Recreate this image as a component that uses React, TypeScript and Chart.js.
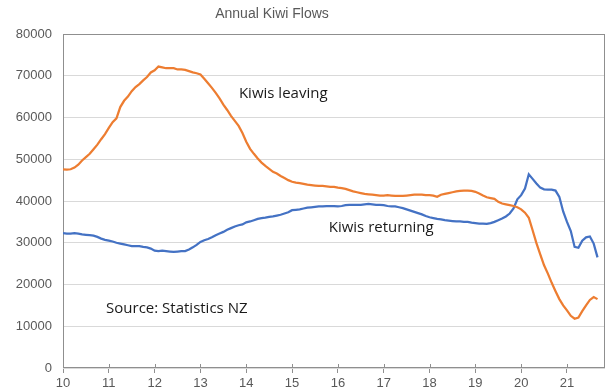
import React, { useEffect, useRef } from "react";
import { Chart, registerables } from "chart.js";

Chart.register(...registerables);

const TITLE = "Annual Kiwi Flows";
const START_YEAR = 10;
const MONTHS_PER_YEAR = 12;
const X_MAX = 21.83;
const X_TICKS = [10, 11, 12, 13, 14, 15, 16, 17, 18, 19, 20, 21];
const Y_TICKS = [0, 10000, 20000, 30000, 40000, 50000, 60000, 70000, 80000];

// Monthly annual totals, starting January 2010
const LEAVING = [
  47600, 47500, 47600, 48000, 48700, 49700, 50500, 51300, 52400, 53500,
  54800, 56000, 57500, 58900, 59800, 62500, 64000, 65000, 66300, 67300,
  68000, 68900, 69700, 70800, 71300, 72200, 72000, 71800, 71800, 71800,
  71500, 71500, 71400, 71100, 70800, 70600, 70300, 69300, 68200, 67100,
  65900, 64600, 63100, 61800, 60400, 59200, 58000, 56300, 54200, 52500,
  51300, 50200, 49200, 48400, 47700, 47000, 46600, 46000, 45500, 45000,
  44600, 44400, 44300, 44100, 43900, 43800, 43700, 43600, 43600, 43500,
  43400, 43400, 43200, 43100, 42900, 42600, 42300, 42100, 41900, 41700,
  41600, 41500, 41400, 41300, 41300, 41400, 41300, 41200, 41200, 41200,
  41300, 41400, 41500, 41500, 41500, 41400, 41400, 41300, 41000, 41500,
  41700, 41900, 42100, 42300, 42400, 42500, 42500, 42400, 42200, 41800,
  41300, 40900, 40700, 40500, 39800, 39400, 39200, 39000, 38800, 38500,
  38000, 37200, 36000, 33000, 29900, 27200, 24600, 22600, 20400, 18400,
  16500, 15000, 13800, 12500, 11800, 12100, 13600, 15000, 16300, 17000,
  16500,
];

const RETURNING = [
  32300, 32200, 32200, 32300, 32200, 32000, 31900, 31800, 31700, 31400,
  31000, 30700, 30500, 30300, 30000, 29800, 29600, 29400, 29200, 29200,
  29200, 29000, 28900, 28600, 28100, 28000, 28100, 28000, 27900, 27800,
  27900, 28000, 28000, 28400, 28900, 29500, 30200, 30600, 30900, 31300,
  31800, 32200, 32600, 33100, 33500, 33900, 34200, 34400, 34900, 35100,
  35400, 35700, 35900, 36000, 36200, 36300, 36500, 36700, 37000, 37300,
  37800, 37900, 38000, 38200, 38400, 38500, 38600, 38700, 38700, 38800,
  38800, 38800, 38700, 38800, 39000, 39100, 39100, 39100, 39100, 39200,
  39300, 39200, 39100, 39100, 39000, 38800, 38700, 38700, 38500, 38300,
  38000, 37700, 37400, 37100, 36800, 36400, 36100, 35900, 35700, 35600,
  35400, 35300, 35200, 35100, 35100, 35000, 35000, 34800, 34700, 34600,
  34600, 34500, 34700, 35000, 35400, 35800, 36300, 37000, 38200, 40400,
  41400, 43000, 46400, 45300, 44200, 43200, 42800, 42700, 42700, 42500,
  41000, 37500, 35000, 32800, 29000, 28800, 30500, 31300, 31500, 29800,
  26500,
];

const ANNOTATION_TEXTS = ["Kiwis leaving", "Kiwis returning", "Source: Statistics NZ"];
const ANNOTATION_X = [13.84, 15.8, 10.94];
const ANNOTATION_Y = [65600, 33500, 14100];

const toPoints = (arr: number[]) =>
  arr.map((v, i) => ({ x: START_YEAR + i / MONTHS_PER_YEAR, y: v }));

const decorPlugin = {
  id: "decor",
  beforeDatasetsDraw(chart: any) {
    const { ctx, chartArea: a, scales } = chart;
    ctx.save();
    ctx.strokeStyle = "#8f8f8f";
    ctx.lineWidth = 1;
    ctx.strokeRect(a.left + 0.5, a.top + 0.5, a.right - a.left - 1, a.bottom - a.top - 1);
    // inner halves of x tick marks
    ctx.beginPath();
    for (const t of X_TICKS) {
      const px = Math.round(scales.x.getPixelForValue(t)) + 0.5;
      ctx.moveTo(px, a.bottom);
      ctx.lineTo(px, a.bottom - 4);
    }
    ctx.stroke();
    ctx.restore();
  },
  afterDraw(chart: any) {
    const { ctx, scales } = chart;
    ctx.save();
    ctx.fillStyle = "#1a1a1a";
    ctx.font = '15px "Open Sans"';
    ctx.textAlign = "left";
    ctx.textBaseline = "middle";
    ANNOTATION_TEXTS.forEach((t, i) => {
      ctx.fillText(
        t,
        scales.x.getPixelForValue(ANNOTATION_X[i]),
        scales.y.getPixelForValue(ANNOTATION_Y[i])
      );
    });
    ctx.fillStyle = "#595959";
    ctx.font = '14px "Liberation Sans"';
    ctx.textAlign = "center";
    ctx.fillText(TITLE, 272, 14);
    ctx.restore();
  },
};

export default function App() {
  const ref = useRef<HTMLCanvasElement | null>(null);

  useEffect(() => {
    if (!ref.current) return;
    Chart.defaults.font.family = '"Liberation Sans", Arial, sans-serif';
    const chart = new Chart(ref.current, {
      type: "line",
      data: {
        datasets: [
          {
            label: "Kiwis leaving",
            data: toPoints(LEAVING),
            borderColor: "#ED7D31",
            borderWidth: 2.25,
            pointRadius: 0,
            tension: 0,
            fill: false,
          },
          {
            label: "Kiwis returning",
            data: toPoints(RETURNING),
            borderColor: "#4472C4",
            borderWidth: 2.25,
            pointRadius: 0,
            tension: 0,
            fill: false,
          },
        ],
      },
      options: {
        animation: false,
        responsive: false,
        parsing: false as any,
        layout: { padding: { top: 34, right: 1, left: 0, bottom: 0 } },
        plugins: {
          legend: { display: false },
          title: { display: false },
          tooltip: { enabled: false },
        },
        scales: {
          x: {
            type: "linear",
            min: START_YEAR,
            max: X_MAX,
            afterBuildTicks: (scale: any) => {
              scale.ticks = X_TICKS.map((v) => ({ value: v }));
            },
            afterFit: (scale: any) => {
              scale.height = 24;
            },
            grid: {
              drawOnChartArea: false,
              drawTicks: true,
              tickLength: 5,
              color: "#8f8f8f",
            },
            border: { display: false },
            ticks: {
              autoSkip: false,
              maxRotation: 0,
              color: "#595959",
              font: { size: 13 },
              padding: 3,
              callback: (v: any) => String(v),
            },
          },
          y: {
            type: "linear",
            min: 0,
            max: 80000,
            afterBuildTicks: (scale: any) => {
              scale.ticks = Y_TICKS.map((v) => ({ value: v }));
            },
            afterFit: (scale: any) => {
              scale.width = 63;
            },
            grid: {
              color: "#d9d9d9",
              drawTicks: false,
            },
            border: { display: false },
            ticks: {
              color: "#595959",
              font: { size: 13 },
              padding: 11,
              callback: (v: any) => String(v),
            },
          },
        },
      },
      plugins: [decorPlugin],
    });
    return () => chart.destroy();
  }, []);

  return (
    <div style={{ position: "fixed", left: 0, top: 0, width: 606, height: 392, background: "#fff" }}>
      <canvas ref={ref} width={606} height={392} style={{ display: "block" }} />
    </div>
  );
}
